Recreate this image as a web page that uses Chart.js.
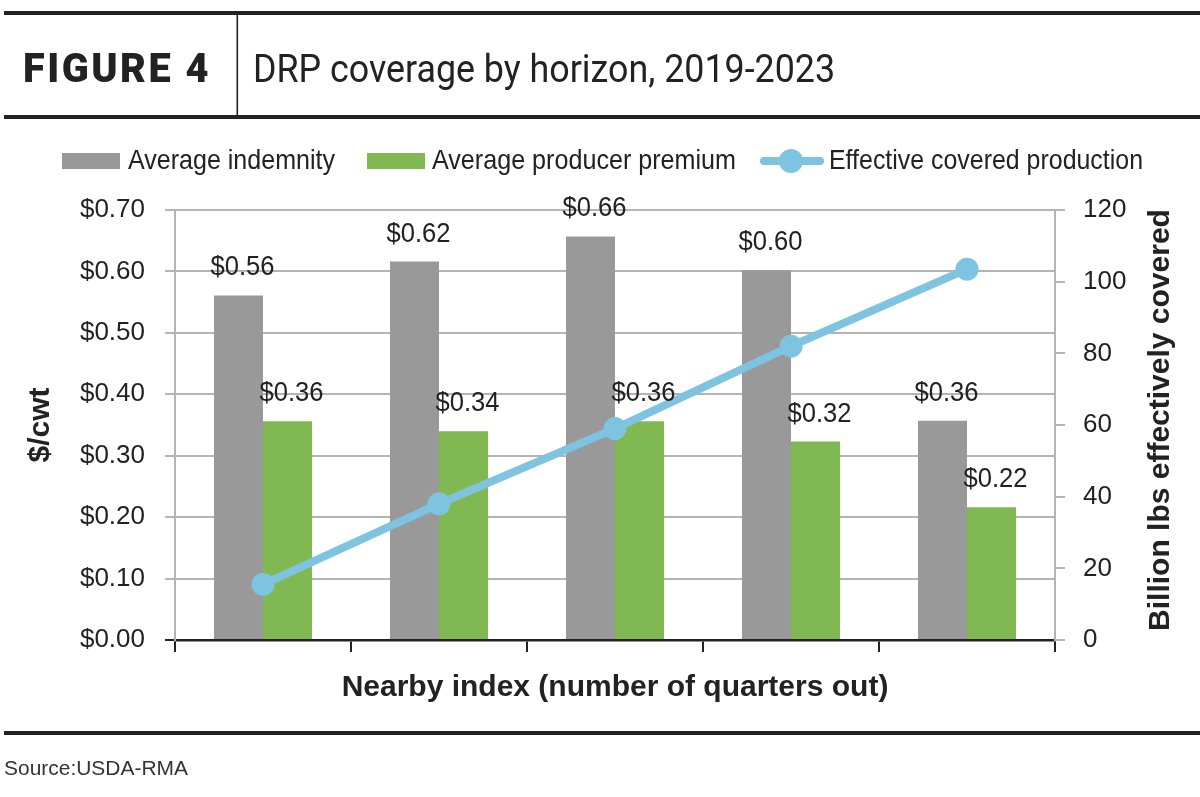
<!DOCTYPE html>
<html><head><meta charset="utf-8">
<script src="https://cdn.jsdelivr.net/npm/chart.js@4.4.0/dist/chart.umd.min.js"></script>
<style>html,body{margin:0;padding:0;background:#fff;overflow:hidden}#wrap{position:absolute;left:0;top:0;width:1200px;height:797px}</style>
</head><body><div id="wrap"><canvas id="c" width="1200" height="797"></canvas></div>
<script>
const categories = ['1', '2', '3', '4', '5'];
const avgIndemnity = [0.561, 0.616, 0.657, 0.602, 0.357];
const avgPremium = [0.356, 0.340, 0.356, 0.323, 0.216];
const coveredProduction = [15.5, 38, 59, 82, 103.5];
const seriesNames = ['Average indemnity', 'Average producer premium', 'Effective covered production'];
const leftAxisTitle = '$/cwt';
const rightAxisTitle = 'Billion lbs effectively covered';
const xAxisTitle = 'Nearby index (number of quarters out)';
const figureLabel = 'FIGURE 4';
const figureTitle = 'DRP coverage by horizon, 2019-2023';
const sourceText = 'Source:USDA-RMA';

const NARROW = "'Liberation Sans Narrow','Arial Narrow','Liberation Sans',sans-serif";
const GRAY = '#999999', GREEN = '#80b951', BLUE = '#7ec4e1', DARK = '#222222', GRID = '#b4b4b4';

const overlay = {
  id: 'overlay',
  afterDraw(chart) {
    const ctx = chart.ctx;
    ctx.save();
    // header rules
    ctx.fillStyle = DARK;
    ctx.fillRect(4, 11, 1196, 4);
    ctx.fillRect(4, 115, 1196, 4);
    ctx.fillRect(4, 731, 1196, 4);
    ctx.fillRect(236.5, 15, 1.6, 100);
    // header text
    ctx.textBaseline = 'alphabetic';
    ctx.textAlign = 'left';
    ctx.fillStyle = DARK;
    ctx.font = "900 40px Roboto, sans-serif";
    if ('letterSpacing' in ctx) ctx.letterSpacing = '2.5px';
    ctx.fillText(figureLabel, 23, 82, 188);
    if ('letterSpacing' in ctx) ctx.letterSpacing = '0px';
    ctx.font = "400 39px Roboto, sans-serif";
    ctx.fillText(figureTitle, 253, 82, 582);
    // legend
    ctx.font = "28px " + NARROW;
    ctx.fillStyle = GRAY; ctx.fillRect(62, 153, 58, 16);
    ctx.fillStyle = DARK; ctx.fillText(seriesNames[0], 128, 169, 207);
    ctx.fillStyle = GREEN; ctx.fillRect(367, 153, 58, 16);
    ctx.fillStyle = DARK; ctx.fillText(seriesNames[1], 432, 169, 304);
    ctx.strokeStyle = BLUE; ctx.lineWidth = 8; ctx.lineCap = 'round';
    ctx.beginPath(); ctx.moveTo(764, 161); ctx.lineTo(820, 161); ctx.stroke();
    ctx.fillStyle = BLUE; ctx.beginPath(); ctx.arc(791, 161, 12, 0, Math.PI * 2); ctx.fill();
    ctx.fillStyle = DARK; ctx.fillText(seriesNames[2], 829, 169, 314);
    // data labels
    ctx.textAlign = 'center';
    [0, 1].forEach(di => {
      const meta = chart.getDatasetMeta(di);
      const vals = chart.data.datasets[di].data;
      meta.data.forEach((bar, i) => {
        ctx.fillText('$' + vals[i].toFixed(2), bar.x + 4, bar.y - 20, 64);
      });
    });
    // right axis title
    ctx.save();
    ctx.translate(1169, 420);
    ctx.rotate(-Math.PI / 2);
    ctx.font = "bold 30px " + NARROW;
    ctx.textAlign = 'center';
    ctx.fillText(rightAxisTitle, 0, 0, 424);
    ctx.restore();
    // source
    ctx.textAlign = 'left';
    ctx.fillStyle = '#333';
    ctx.font = "21px 'Liberation Sans', Arial, sans-serif";
    ctx.fillText(sourceText, 4, 775, 184);
    ctx.restore();
  }
};

new Chart(document.getElementById('c'), {
  type: 'bar',
  data: {
    labels: categories,
    datasets: [
      { type: 'bar', label: seriesNames[0], data: avgIndemnity, backgroundColor: GRAY, yAxisID: 'y', order: 2, categoryPercentage: 0.557, barPercentage: 1 },
      { type: 'bar', label: seriesNames[1], data: avgPremium, backgroundColor: GREEN, yAxisID: 'y', order: 2, categoryPercentage: 0.557, barPercentage: 1 },
      { type: 'line', label: seriesNames[2], data: coveredProduction, borderColor: BLUE, backgroundColor: BLUE, borderWidth: 8, pointRadius: 11.5, pointBorderWidth: 0, pointBackgroundColor: BLUE, yAxisID: 'y1', order: 0, tension: 0 }
    ]
  },
  options: {
    responsive: false,
    animation: false,
    devicePixelRatio: 1,
    layout: { padding: { left: 0, right: 0, top: 210, bottom: 77 } },
    plugins: { legend: { display: false }, tooltip: { enabled: false } },
    scales: {
      x: {
        offset: true,
        grid: { offset: true, drawOnChartArea: false, drawTicks: true, tickLength: 12, color: DARK, lineWidth: 2 },
        border: { color: DARK, width: 2.5 },
        ticks: { display: false },
        title: { display: true, text: xAxisTitle, color: DARK, font: { family: NARROW, size: 30, weight: 'bold' }, padding: { top: 0, bottom: 14 } },
        afterFit(s) { s.height = 80; }
      },
      y: {
        position: 'left', min: 0, max: 0.7,
        ticks: { stepSize: 0.1, padding: 20, color: DARK, font: { family: NARROW, size: 26 }, callback: v => '$' + Number(v).toFixed(2) },
        grid: { color: c => (c.tick && c.tick.value === 0) ? DARK : GRID, lineWidth: 2, tickLength: 10, drawTicks: true },
        border: { color: GRID, width: 2 },
        title: { display: true, text: leftAxisTitle, color: DARK, font: { family: NARROW, size: 30, weight: 'bold' }, padding: { top: 23 } },
        afterFit(s) { s.width = 175; }
      },
      y1: {
        position: 'right', min: 0, max: 120,
        ticks: { stepSize: 20, padding: 18, color: DARK, font: { family: NARROW, size: 26 } },
        grid: { drawOnChartArea: false, drawTicks: true, tickLength: 10, color: GRID, lineWidth: 2 },
        border: { color: GRID, width: 2 },
        afterFit(s) { s.width = 145; }
      }
    }
  },
  plugins: [overlay]
});
</script></body></html>
